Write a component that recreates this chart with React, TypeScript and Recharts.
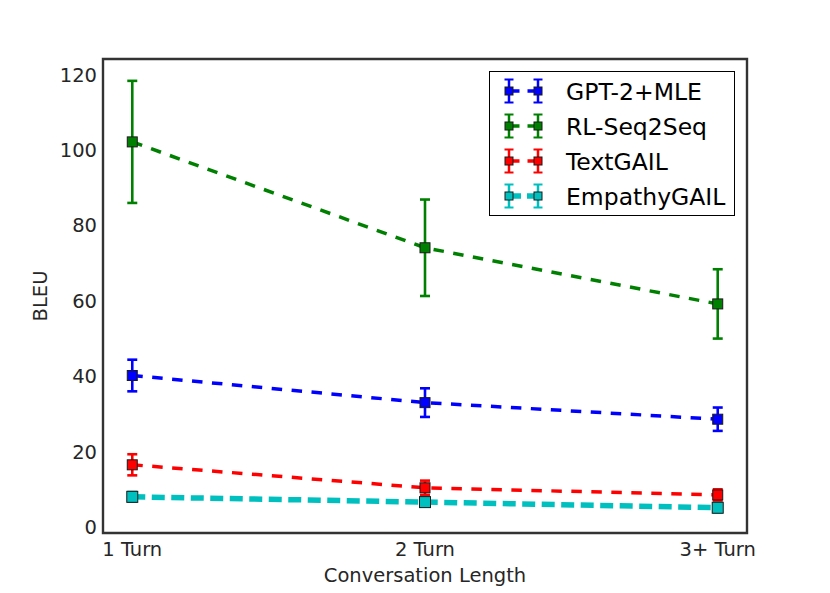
import React from 'react';
import { LineChart, Line, XAxis, YAxis, ErrorBar, ReferenceArea, Legend } from 'recharts';

const turnLabels = ['1 Turn', '2 Turn', '3+ Turn'];
const turnIndex = [0, 1, 2];

const gptValues = [40.2, 33.0, 28.6];
const gptErrors = [4.2, 3.8, 3.1];
const rlValues = [102.2, 74.1, 59.2];
const rlErrors = [16.2, 12.8, 9.2];
const textValues = [16.5, 10.4, 8.5];
const textErrors = [2.8, 1.9, 1.5];
const empValues = [8.0, 6.6, 5.1];
const empErrors = [1.3, 1.2, 1.2];

const yTicks = [0, 20, 40, 60, 80, 100, 120];

const seriesNames = ['GPT-2+MLE', 'RL-Seq2Seq', 'TextGAIL', 'EmpathyGAIL'];
const seriesKeys = ['gpt', 'rl', 'text', 'emp'];
const seriesColors = ['#0000ff', '#008000', '#ff0000', '#00bfbf'];
const seriesWidths = [3.5, 3.5, 3.5, 5.5];
const seriesDash = ['10.5 9.5', '10.5 9.5', '10.5 9.5', '13 6.5'];
const markerSizes = [10, 10, 10, 11];

const data = turnIndex.map((x, i) => ({
  x,
  gpt: gptValues[i],
  gptErr: gptErrors[i],
  rl: rlValues[i],
  rlErr: rlErrors[i],
  text: textValues[i],
  textErr: textErrors[i],
  emp: empValues[i],
  empErr: empErrors[i],
}));

const FONT = '"DejaVu Sans", sans-serif';
const TEXT_COLOR = '#262626';

const makeDot = (color: string, size: number) => (props: any) => {
  const { cx, cy, index } = props;
  if (cx == null || cy == null) return <g key={`d-${index}`} />;
  return (
    <rect
      key={`d-${index}`}
      x={cx - size / 2}
      y={cy - size / 2}
      width={size}
      height={size}
      fill={color}
      stroke="#1a1a1a"
      strokeWidth={1}
    />
  );
};

const LegendBox = () => {
  const rowY = (i: number) => 19 + i * 35;
  return (
    <div
      style={{
        width: 244,
        height: 143,
        border: '1.5px solid #000',
        background: '#fff',
        boxSizing: 'content-box',
      }}
    >
      <svg width={244} height={143} style={{ display: 'block' }}>
        {seriesNames.map((name, i) => {
          const y = rowY(i);
          const c = seriesColors[i];
          const ms = 8;
          return (
            <g key={name}>
              <line x1={19} y1={y} x2={48} y2={y} stroke={c} strokeWidth={seriesWidths[i]} strokeDasharray={i === 3 ? '12 6' : '10.5 8'} />
              {[19, 48].map((mx) => (
                <g key={mx}>
                  <line x1={mx} y1={y - 11.5} x2={mx} y2={y + 11.5} stroke={c} strokeWidth={2.5} />
                  <line x1={mx - 4.5} y1={y - 11.5} x2={mx + 4.5} y2={y - 11.5} stroke={c} strokeWidth={2} />
                  <line x1={mx - 4.5} y1={y + 11.5} x2={mx + 4.5} y2={y + 11.5} stroke={c} strokeWidth={2} />
                  <rect x={mx - ms / 2} y={y - ms / 2} width={ms} height={ms} fill={c} stroke="#1a1a1a" strokeWidth={1} />
                </g>
              ))}
              <text x={76} y={y + 8.5} fontFamily={FONT} fontSize={23.5} fill="#000">
                {name}
              </text>
            </g>
          );
        })}
      </svg>
    </div>
  );
};

export default function App() {
  return (
    <div style={{ position: 'absolute', left: 0, top: 0, width: 830, height: 593, background: '#fff' }}>
      <LineChart
        width={830}
        height={593}
        data={data}
        margin={{ top: 59, right: 83, bottom: 10, left: 43 }}
      >
        <XAxis
          dataKey="x"
          type="number"
          domain={[-0.1, 2.1]}
          allowDataOverflow
          ticks={turnIndex}
          tickFormatter={(v: number) => turnLabels[v]}
          axisLine={false}
          tickLine={false}
          tickSize={0}
          tickMargin={9}
          height={50}
          tick={{ fontFamily: FONT, fontSize: 19.5, fill: TEXT_COLOR }}
          label={{
            content: (p: any) => {
              const vb = p.viewBox || { x: 103, y: 533, width: 644 };
              return (
                <text
                  x={vb.x + vb.width / 2}
                  y={vb.y + 48.5}
                  textAnchor="middle"
                  fontFamily={FONT}
                  fontSize={19.5}
                  fill={TEXT_COLOR}
                >
                  Conversation Length
                </text>
              );
            },
          }}
        />
        <YAxis
          type="number"
          domain={[-1.6, 124.2]}
          allowDataOverflow
          ticks={yTicks}
          axisLine={false}
          tickLine={false}
          tickSize={0}
          tickMargin={6}
          width={60}
          tick={{ fontFamily: FONT, fontSize: 19.5, fill: TEXT_COLOR }}
          label={{
            content: (p: any) => {
              const vb = p.viewBox || { x: 43, y: 59, width: 60, height: 474 };
              const cx = vb.x - 3;
              const cy = vb.y + vb.height / 2;
              return (
                <text
                  x={cx}
                  y={cy}
                  textAnchor="middle"
                  dominantBaseline="central"
                  transform={`rotate(-90 ${cx} ${cy})`}
                  fontFamily={FONT}
                  fontSize={19.5}
                  fill={TEXT_COLOR}
                >
                  BLEU
                </text>
              );
            },
          }}
        />
        <ReferenceArea
          x1={-0.1}
          x2={2.1}
          y1={-1.6}
          y2={124.2}
          fill="none"
          stroke="#333333"
          strokeWidth={2.4}
          ifOverflow="visible"
        />
        {seriesKeys.map((k, i) => (
          <Line
            key={k}
            type="linear"
            dataKey={k}
            stroke={seriesColors[i]}
            strokeWidth={seriesWidths[i]}
            strokeDasharray={seriesDash[i]}
            dot={makeDot(seriesColors[i], markerSizes[i])}
            activeDot={false}
            isAnimationActive={false}
            name={seriesNames[i]}
          >
            <ErrorBar
              dataKey={`${k}Err`}
              direction="y"
              width={5}
              stroke={seriesColors[i]}
              strokeWidth={2.6}
              isAnimationActive={false}
            />
          </Line>
        ))}
        <Legend
          layout="vertical"
          align="center"
          verticalAlign="middle"
          content={() => <LegendBox />}
          wrapperStyle={{ position: 'absolute', left: 489, top: 71, width: 247, height: 146 }}
        />
      </LineChart>
    </div>
  );
}
